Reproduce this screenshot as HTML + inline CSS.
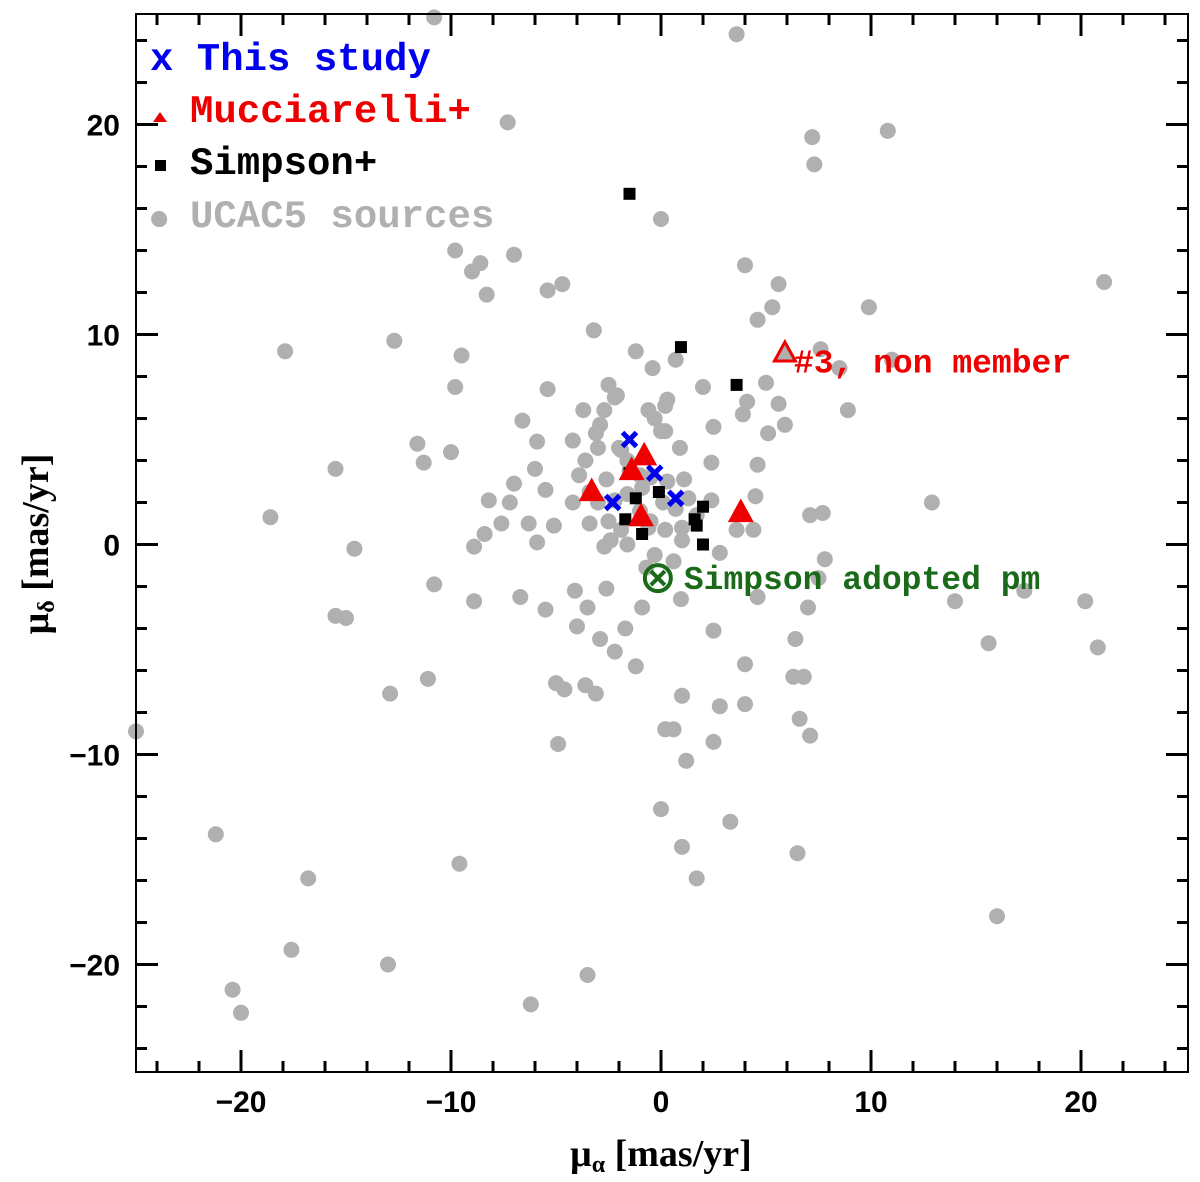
<!DOCTYPE html>
<html><head><meta charset="utf-8"><style>
body{margin:0;background:#fff}
svg{display:block}
.t{font-family:"Liberation Sans",sans-serif;font-size:30px;fill:#000;font-weight:bold}
.m{font-family:"Liberation Mono",monospace;font-weight:bold}
</style></head><body>
<svg id="c" width="1200" height="1182"></svg>
<script>
const grayX=[-10.8,3.6,-7.3,7.2,10.8,7.3,-23.9,0,-9.8,-7,-8.6,-9,-8.3,-5.4,-4.7,4,5.6,5.3,4.6,9.9,21.1,-3.2,-12.7,-17.9,-9.5,-1.2,7.6,11,8.5,-9.8,-5.4,-2.5,2,5,-0.4,0.7,-2.2,4.1,5.6,8.9,-6.6,-3.7,-2.7,-0.6,0.3,3.9,-3.1,-4.2,-5.9,-11.6,-10,-11.3,-15.5,2.5,5.1,5.9,0.9,2.4,4.6,-1.9,0.2,-3.6,-6,-3.9,-7,-5.5,-8.2,-7.2,-4.2,-2.6,1.1,2.4,4.5,12.9,7.1,7.7,-18.6,-7.6,-6.3,-5.1,-8.4,-3.4,-2.4,-1.6,0.2,1,3.6,4.4,-14.6,-8.9,-5.9,-2.7,-0.3,2.8,7.8,4.6,7.5,-10.8,-6.7,-8.9,-4.1,-2.6,0.95,7,14,17.3,20.2,-15.5,-15,-5.5,-3.5,-0.9,-4,-2.9,-1.7,2.5,6.4,15.6,20.8,-2.2,-1.2,4,6.3,6.8,-11.1,-5,-4.6,-3.6,-12.9,-3.1,1,2.8,4,0.2,0.6,6.6,7.1,-4.9,2.5,-25,1.2,0,3.3,1,6.5,-21.2,-9.6,-16.8,1.7,16,-17.6,-13,-3.5,-20.4,-20,-6.2,-2.9,-3,-2,-1.6,-1.5,-1,-0.5,-1.6,-2.2,-0.9,0.3,0.1,0.7,1.3,1.7,1,-0.5,-1,-2.5,-3,-1.9,-0.6,0.6,-0.7,-3.4,-2.1,-0.3,0.2,0];
const grayY=[25.1,24.3,20.1,19.4,19.7,18.1,15.5,15.5,14,13.8,13.4,13,11.9,12.1,12.4,13.3,12.4,11.3,10.7,11.3,12.5,10.2,9.7,9.2,9,9.2,9.3,8.8,8.4,7.5,7.4,7.6,7.5,7.7,8.4,8.8,7,6.8,6.7,6.4,5.9,6.4,6.4,6.4,6.9,6.2,5.3,4.95,4.9,4.8,4.4,3.9,3.6,5.6,5.3,5.7,4.6,3.9,3.8,4.5,5.4,4,3.6,3.3,2.9,2.6,2.1,2,2,3.1,3.1,2.1,2.3,2,1.4,1.5,1.3,1,1,0.9,0.5,1,0.2,0,0.7,0.2,0.7,0.7,-0.2,-0.1,0.1,-0.1,-0.5,-0.4,-0.7,-2.5,-1.6,-1.9,-2.5,-2.7,-2.2,-2.1,-2.6,-3,-2.7,-2.2,-2.7,-3.4,-3.5,-3.1,-3,-3,-3.9,-4.5,-4,-4.1,-4.5,-4.7,-4.9,-5.1,-5.8,-5.7,-6.3,-6.3,-6.4,-6.6,-6.9,-6.7,-7.1,-7.1,-7.2,-7.7,-7.6,-8.8,-8.8,-8.3,-9.1,-9.5,-9.4,-8.9,-10.3,-12.6,-13.2,-14.4,-14.7,-13.8,-15.2,-15.9,-15.9,-17.7,-19.3,-20,-20.5,-21.2,-22.3,-21.9,5.7,4.6,4.6,4,3.5,3.3,3.2,2.4,2.1,2.7,3,2,1.7,2.2,1.4,0.8,1.1,1.6,1.1,2,0.7,0.8,-0.8,-1.1,2.5,7.1,6,6.6,5.4];
const simpX=[-1.5,0.95,3.6,-1.5,-1.2,-0.1,-1.7,-0.9,2,1.6,1.7,2,3.8];
const simpY=[16.7,9.4,7.6,3.4,2.2,2.5,1.2,0.5,1.8,1.2,0.9,0,1.4];
const mucX=[-3.3,-0.8,-1.4,-0.95,3.8];
const mucY=[2.5,4.2,3.5,1.3,1.5];
const studyX=[-1.5,-0.3,-2.3,0.7];
const studyY=[5,3.4,2,2.2];
const nonMember=[5.9,9.1];
const adopted=[-0.15,-1.6];
const ticks=[-20,-10,0,10,20];
const tickLabels=["\u221220","\u221210","0","10","20"];

const svg=document.getElementById('c');const NS='http://www.w3.org/2000/svg';
const L=136,R=1188,T=14,B=1072;
const sx=v=>661+21*v, sy=v=>544.5-21*v;
function mk(tag,at,parent){const e=document.createElementNS(NS,tag);for(const k in at)e.setAttribute(k,at[k]);(parent||svg).appendChild(e);return e;}
const pts=mk('g',{});


grayX.forEach((x,i)=>{const c=mk('circle',{cx:sx(x),cy:sy(grayY[i]),r:8,fill:'#b0b0b0'},pts);

});
simpX.forEach((x,i)=>{const s=mk('rect',{x:sx(x)-6,y:sy(simpY[i])-6,width:12,height:12,fill:'#000'},pts);

});
function tri(x,y,s,fill,stroke){return mk('polygon',{points:`${x},${y-s*0.6} ${x-s*0.55},${y+s*0.4} ${x+s*0.55},${y+s*0.4}`,fill:fill,stroke:stroke,'stroke-width':3},pts);}
mucX.forEach((x,i)=>{const t=tri(sx(x),sy(mucY[i]),19,'#ee0000','#ee0000');

});
const nm=tri(sx(nonMember[0]),sy(nonMember[1]),19,'#b0b0b0','#ee0000');


studyX.forEach((x,i)=>{const px=sx(x),py=sy(studyY[i]);
const g=mk('path',{d:`M${px-7},${py-7}L${px+7},${py+7}M${px+7},${py-7}L${px-7},${py+7}`,stroke:'#0000ee','stroke-width':5,fill:'none'},pts);

});
const ax=sx(adopted[0]),ay=sy(adopted[1]);
const ad=mk('g',{stroke:'#1a6a1a','stroke-width':4,fill:'none'});


mk('circle',{cx:ax,cy:ay,r:13},ad);mk('line',{x1:ax-7,y1:ay-7,x2:ax+7,y2:ay+7},ad);mk('line',{x1:ax+7,y1:ay-7,x2:ax-7,y2:ay+7},ad);
const at=mk('text',{x:ax+26,y:ay+11,fill:'#1a6a1a','font-size':33,class:'m'});at.textContent='Simpson adopted pm';


const nt=mk('text',{x:sx(nonMember[0])+9,y:sy(nonMember[1])+19,fill:'#ee0000','font-size':33,class:'m'});nt.textContent='#3, non member';


const fr=mk('rect',{x:L,y:T,width:R-L,height:B-T,fill:'none',stroke:'#000','stroke-width':2});


const tk=mk('g',{stroke:'#000','stroke-width':3});


for(let v=-24;v<=24;v+=2){const big=v%10===0,len=big?22:11;
 const x=sx(v);mk('line',{x1:x,y1:B,x2:x,y2:B-len},tk);mk('line',{x1:x,y1:T,x2:x,y2:T+len},tk);
 const y=sy(v);mk('line',{x1:L,y1:y,x2:L+len,y2:y},tk);mk('line',{x1:R,y1:y,x2:R-len,y2:y},tk);}
ticks.forEach((v,i)=>{const a=mk('text',{x:sx(v),y:B+40,'text-anchor':'middle',class:'t'});a.textContent=tickLabels[i];


const b=mk('text',{x:L-16,y:sy(v)+11,'text-anchor':'end',class:'t'});b.textContent=tickLabels[i];

});
</script>
<div style="position:absolute;left:0;top:0">
<svg width="1200" height="1182" style="position:absolute;left:0;top:0">
<g font-family="Liberation Mono" font-weight="bold" font-size="39">
<text x="150" y="70" fill="#0000ee">x This study</text>
<polygon points="160,112 153,122 167,122" fill="#ee0000"/>
<text x="190" y="122" fill="#ee0000">Mucciarelli+</text>
<rect x="155" y="160" width="11" height="11" fill="#000"/>
<text x="190" y="174" fill="#000">Simpson+</text>
<circle cx="160" cy="220" r="7" fill="#b0b0b0"/>
<text x="190" y="227" fill="#b0b0b0">UCAC5 sources</text>
</g>
<text x="661" y="1166" text-anchor="middle" font-family="Liberation Serif,serif" font-weight="bold" font-size="38">μ<tspan font-size="24" dy="6">α</tspan><tspan dy="-6"> [mas/yr]</tspan></text>
<text transform="translate(48,544) rotate(-90)" text-anchor="middle" font-family="Liberation Serif,serif" font-weight="bold" font-size="38">μ<tspan font-size="24" dy="6">δ</tspan><tspan dy="-6"> [mas/yr]</tspan></text>
</svg></div>
</body></html>
